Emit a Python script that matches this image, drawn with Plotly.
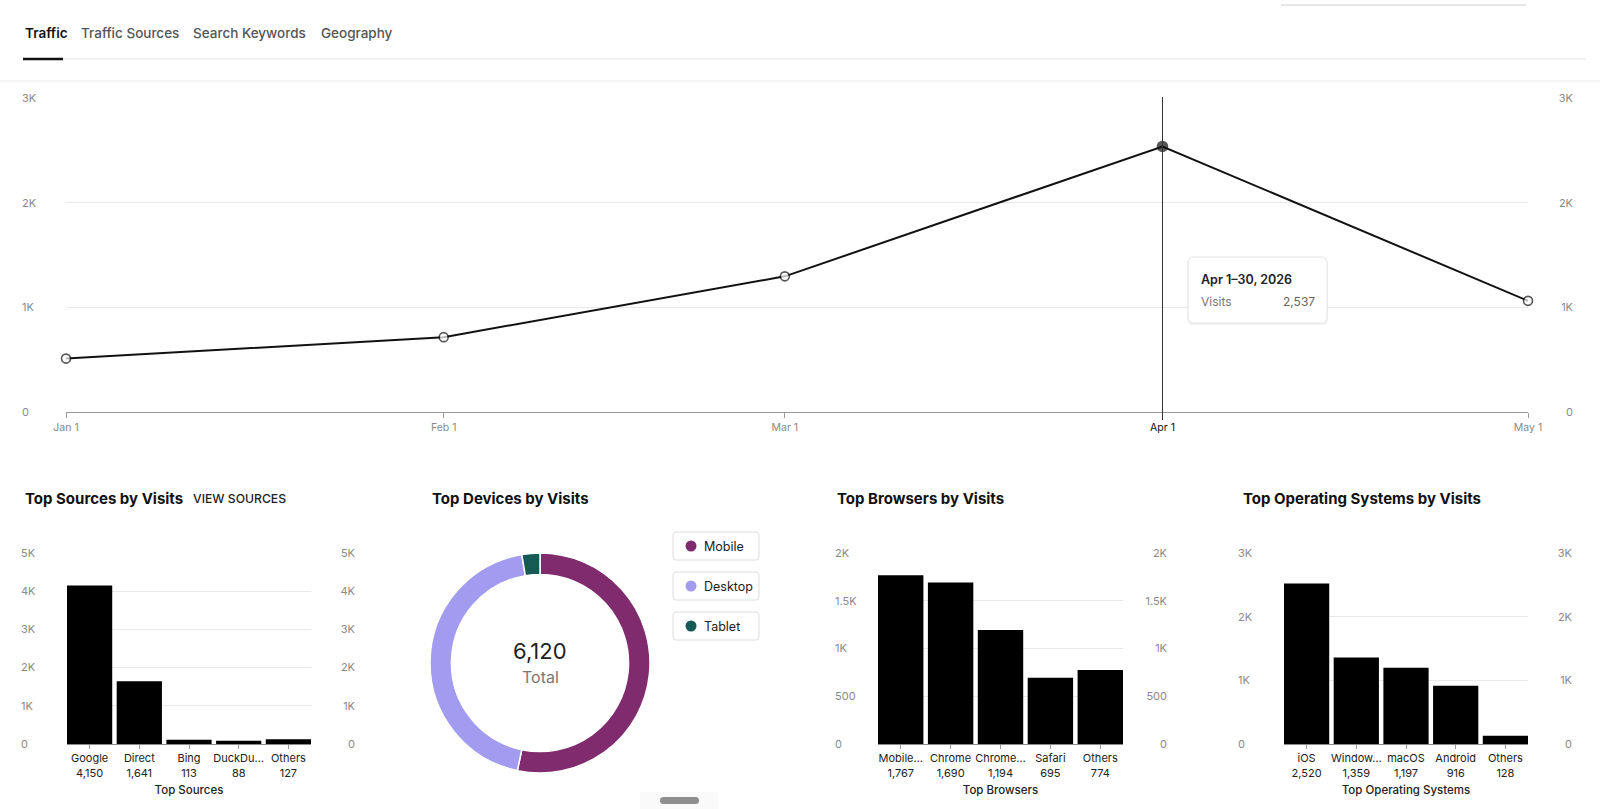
import plotly.graph_objects as go

W, H = 1600, 809
FONT = "Inter"

# ---------------- data ----------------
tabs = ["Traffic", "Traffic Sources", "Search Keywords", "Geography"]

months = ["2026-01-01", "2026-02-01", "2026-03-01", "2026-04-01", "2026-05-01"]
month_ticktext = ["Jan 1", "Feb 1", "Mar 1", "Apr 1", "May 1"]
visits = [510, 715, 1296, 2537, 1062]
line_ticks = [0, 1000, 2000, 3000]
line_ticktext = ["0", "1K", "2K", "3K"]
highlight_index = 3
tooltip_title = "Apr 1\u201330, 2026"
tooltip_series = "Visits"

source_labels = ["Google", "Direct", "Bing", "DuckDu\u2026", "Others"]
source_visits = [4150, 1641, 113, 88, 127]
source_ticks = [0, 1000, 2000, 3000, 4000, 5000]
source_ticktext = ["0", "1K", "2K", "3K", "4K", "5K"]

device_labels = ["Mobile", "Desktop", "Tablet"]
device_visits = [3262, 2696, 162]
device_colors = ["#812b6f", "#a29bf0", "#155a55"]

browser_labels = ["Mobile\u2026", "Chrome", "Chrome\u2026", "Safari", "Others"]
browser_visits = [1767, 1690, 1194, 695, 774]
browser_ticks = [0, 500, 1000, 1500, 2000]
browser_ticktext = ["0", "500", "1K", "1.5K", "2K"]

os_labels = ["iOS", "Window\u2026", "macOS", "Android", "Others"]
os_visits = [2520, 1359, 1197, 916, 128]
os_ticks = [0, 1000, 2000, 3000]
os_ticktext = ["0", "1K", "2K", "3K"]


# ---------------- helpers ----------------
def px(x):
    return x / W


def py(y):
    return 1 - y / H


def rrect(x0, y0, x1, y1, r):
    rx, ry = r / W, r / H
    X0, X1 = px(x0), px(x1)
    Y0, Y1 = py(y0), py(y1)
    return (f"M{X0+rx},{Y0} L{X1-rx},{Y0} Q{X1},{Y0} {X1},{Y0-ry} "
            f"L{X1},{Y1+ry} Q{X1},{Y1} {X1-rx},{Y1} L{X0+rx},{Y1} "
            f"Q{X0},{Y1} {X0},{Y1+ry} L{X0},{Y0-ry} Q{X0},{Y0} {X0+rx},{Y0} Z")


BARGAP = 0.09

fig = go.Figure()
shapes = []
ann = []
axes = {}
axis_font = dict(family=FONT, size=11, color="#8a8a8a")
ycount = [0]


def label_axes(main_y, xname, rng, ticks, ticktext, left_start, right_end, xs, ys):
    """Left-aligned labels on the left, right-aligned labels on the right (overlaying axes)."""
    for side, pos in (("right", left_start), ("left", right_end)):
        ycount[0] += 1
        name = f"yaxis{ycount[0]}"
        ref = f"y{ycount[0]}"
        axes[name] = dict(overlaying=main_y, anchor="free", position=px(pos), side=side,
                          range=rng, tickvals=ticks, ticktext=ticktext, showgrid=False,
                          zeroline=False, showline=False, ticks="", tickfont=axis_font,
                          ticklabelstandoff=0, fixedrange=True)
        fig.add_trace(go.Scatter(x=xs, y=ys, xaxis=xname, yaxis=ref, mode="none",
                                 showlegend=False, hoverinfo="skip"))


# ---------------- line chart ----------------
mcolors = ["#ffffff"] * len(visits)
msizes = [9] * len(visits)
mcolors[highlight_index] = "#111111"
msizes[highlight_index] = 10
ycount[0] = 1
fig.add_trace(go.Scatter(
    x=months, y=visits, mode="lines+markers", xaxis="x", yaxis="y",
    line=dict(color="#111111", width=2),
    marker=dict(size=msizes, color=mcolors, line=dict(color="#111111", width=1.6)),
    cliponaxis=False, showlegend=False, hoverinfo="skip"))

tick_txt = list(month_ticktext)
tick_txt[highlight_index] = f"<span style='color:#111111'>{month_ticktext[highlight_index]}</span>"

axes["xaxis"] = dict(type="date", domain=[px(66), px(1528)], anchor="y",
                     range=[months[0], months[-1]], tickvals=months, ticktext=tick_txt,
                     showgrid=False, showline=True, linecolor="#9a9a9a", linewidth=1,
                     ticks="outside", ticklen=5, tickcolor="#9a9a9a",
                     tickfont=dict(family=FONT, size=10.5, color="#8a8a8a"), zeroline=False,
                     fixedrange=True)
axes["yaxis"] = dict(domain=[py(412), py(98)], anchor="x", range=[0, 3000],
                     tickvals=line_ticks, showticklabels=False, showgrid=True,
                     gridcolor="#e9e9e9", zeroline=False, showline=False, fixedrange=True)
label_axes("y", "x", [0, 3000], line_ticks, line_ticktext, 21, 1573, months, visits)

# ---------------- bar charts ----------------
bar_specs = [
    (source_labels, source_visits, source_ticks, source_ticktext, 67, 311, "Top Sources", 20, 355),
    (browser_labels, browser_visits, browser_ticks, browser_ticktext, 878, 1123, "Top Browsers", 834, 1167),
    (os_labels, os_visits, os_ticks, os_ticktext, 1284, 1528, "Top Operating Systems", 1237, 1572),
]
for n, (labels, vals, ticks, ticktext, x0, x1, xtitle, lpos, rpos) in enumerate(bar_specs, start=2):
    xa = f"x{n}"
    ycount[0] += 1
    main_n = ycount[0]
    main_y = f"y{main_n}"
    top = ticks[-1]
    fig.add_trace(go.Bar(
        x=labels, y=vals, xaxis=xa, yaxis=main_y,
        marker=dict(color="#000000", line=dict(width=0)),
        showlegend=False, hoverinfo="skip"))
    axes[f"xaxis{n}"] = dict(
        domain=[px(x0), px(x1)], anchor=main_y, type="category",
        range=[-0.5 + BARGAP / 2, len(labels) - 0.5 - BARGAP / 2],
        tickvals=labels, ticktext=[f"{l}<br>{v:,}" for l, v in zip(labels, vals)],
        showgrid=False, showline=True, linecolor="#8a8a8a", linewidth=1,
        ticks="outside", ticklen=4, tickcolor="#9a9a9a",
        tickfont=dict(family=FONT, size=11, color="#222222"),
        title=dict(text=xtitle, font=dict(family=FONT, size=11.5, color="#222222", weight=500),
                   standoff=7),
        fixedrange=True)
    axes[f"yaxis{main_n}"] = dict(
        domain=[py(744), py(553)], anchor=xa, range=[0, top],
        tickvals=ticks, showticklabels=False, showgrid=True, gridcolor="#e9e9e9",
        zeroline=False, showline=False, fixedrange=True)
    label_axes(main_y, xa, [0, top], ticks, ticktext, lpos, rpos, labels, vals)

# ---------------- donut ----------------
fig.add_trace(go.Pie(
    labels=device_labels, values=device_visits, hole=0.805, sort=False,
    direction="clockwise", rotation=0, textinfo="none",
    marker=dict(colors=device_colors, line=dict(color="#ffffff", width=1.5)),
    domain=dict(x=[px(430), px(650)], y=[py(773), py(553)]),
    showlegend=False, hoverinfo="skip"))

ann.append(dict(x=px(540), y=py(651), xref="paper", yref="paper", showarrow=False,
                text=f"{sum(device_visits):,}", font=dict(family=FONT, size=22, color="#222222"),
                xanchor="center", yanchor="middle"))
ann.append(dict(x=px(540), y=py(677), xref="paper", yref="paper", showarrow=False,
                text="Total", font=dict(family=FONT, size=16, color="#777777"),
                xanchor="center", yanchor="middle"))

for i, (lab, col) in enumerate(zip(device_labels, device_colors)):
    top_y = 532 + 40 * i
    shapes.append(dict(type="path", xref="paper", yref="paper",
                       path=rrect(673, top_y, 759, top_y + 28, 3),
                       line=dict(color="#dddddd", width=1), fillcolor="#ffffff", layer="below"))
    cy = top_y + 14
    shapes.append(dict(type="circle", xref="paper", yref="paper",
                       x0=px(685.5), x1=px(696.5), y0=py(cy + 5.5), y1=py(cy - 5.5),
                       line=dict(width=0), fillcolor=col))
    ann.append(dict(x=px(702), y=py(cy), xref="paper", yref="paper", showarrow=False,
                    text=lab, font=dict(family=FONT, size=12.5, color="#222222"),
                    xanchor="left", yanchor="middle"))

# ---------------- titles ----------------
titles = [("Top Sources by Visits", 23), ("Top Devices by Visits", 430),
          ("Top Browsers by Visits", 835), ("Top Operating Systems by Visits", 1241)]
for t, x in titles:
    ann.append(dict(x=px(x), y=py(498), xref="paper", yref="paper", showarrow=False,
                    text=f"<b>{t}</b>", font=dict(family=FONT, size=15, color="#111111"),
                    xanchor="left", yanchor="middle"))
ann.append(dict(x=px(191), y=py(498), xref="paper", yref="paper", showarrow=False,
                text="VIEW SOURCES", font=dict(family=FONT, size=12.2, color="#222222", weight=500),
                xanchor="left", yanchor="middle"))

# ---------------- tabs ----------------
tab_x = [23, 79, 191, 319]
for i, (t, x) in enumerate(zip(tabs, tab_x)):
    ann.append(dict(x=px(x), y=py(33), xref="paper", yref="paper", showarrow=False,
                    text=t, font=dict(family=FONT, size=13.5,
                                      color="#111111" if i == 0 else "#555555",
                                      weight=600 if i == 0 else 500),
                    xanchor="left", yanchor="middle"))
shapes += [
    dict(type="line", xref="paper", yref="paper", x0=px(63), x1=px(1586), y0=py(59), y1=py(59),
         line=dict(color="#e2e2e2", width=1)),
    dict(type="line", xref="paper", yref="paper", x0=px(23), x1=px(63), y0=py(59), y1=py(59),
         line=dict(color="#111111", width=2.5)),
    dict(type="line", xref="paper", yref="paper", x0=0, x1=1, y0=py(81), y1=py(81),
         line=dict(color="#e8e8e8", width=1)),
    dict(type="line", xref="paper", yref="paper", x0=px(1281), x1=px(1526), y0=py(5), y1=py(5),
         line=dict(color="#cfcfcf", width=1)),
]

# ---------------- hover line + tooltip ----------------
shapes.append(dict(type="line", xref="x", yref="paper", x0=months[highlight_index],
                   x1=months[highlight_index], y0=py(420), y1=py(97),
                   line=dict(color="#333333", width=1), layer="above"))
shapes.append(dict(type="path", xref="paper", yref="paper", path=rrect(1187, 258, 1328, 325, 6),
                   line=dict(width=0), fillcolor="rgba(0,0,0,0.05)"))
shapes.append(dict(type="path", xref="paper", yref="paper", path=rrect(1188, 257, 1327, 323, 6),
                   line=dict(color="#e4e4e4", width=1), fillcolor="#ffffff"))
ann.append(dict(x=px(1199), y=py(279), xref="paper", yref="paper", showarrow=False,
                text=tooltip_title, font=dict(family=FONT, size=12.5, color="#222222", weight=600),
                xanchor="left", yanchor="middle"))
ann.append(dict(x=px(1199), y=py(301), xref="paper", yref="paper", showarrow=False,
                text=tooltip_series, font=dict(family=FONT, size=12, color="#777777"),
                xanchor="left", yanchor="middle"))
ann.append(dict(x=px(1317), y=py(301), xref="paper", yref="paper", showarrow=False,
                text=f"{visits[highlight_index]:,}", font=dict(family=FONT, size=12, color="#666666"),
                xanchor="right", yanchor="middle"))

# ---------------- bottom pill ----------------
shapes.append(dict(type="path", xref="paper", yref="paper", path=rrect(640, 792, 718, 812, 3),
                   line=dict(width=0), fillcolor="#fafafa", layer="below"))
shapes.append(dict(type="path", xref="paper", yref="paper", path=rrect(660, 797, 699, 804, 3.5),
                   line=dict(width=0), fillcolor="#8e8e8e"))

fig.update_layout(
    autosize=True, margin=dict(l=0, r=0, t=0, b=0, autoexpand=False),
    paper_bgcolor="#ffffff", plot_bgcolor="#ffffff",
    font=dict(family=FONT, size=11, color="#222222"),
    bargap=BARGAP, shapes=shapes, annotations=ann, hovermode=False,
    **axes)

fig.write_html("out.html", config={"displayModeBar": False},
               default_width="100%", default_height="100%")
